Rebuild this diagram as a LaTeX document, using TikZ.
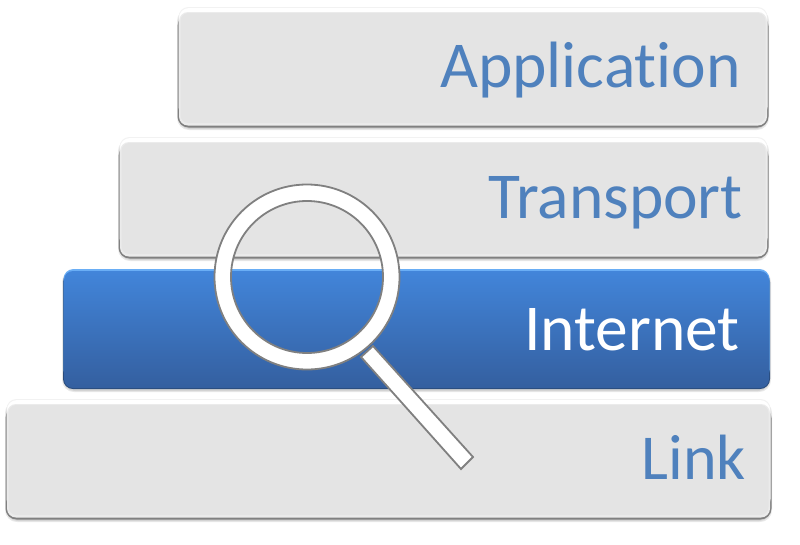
\documentclass[tikz,border=0pt]{standalone}
\usepackage{fontspec}
\setmainfont{Carlito}[Ligatures=NoCommon]
\definecolor{lblue}{HTML}{4F81BD}
\definecolor{ringgray}{HTML}{808080}
\definecolor{boxgray}{HTML}{E4E4E4}
\definecolor{bluetop}{HTML}{4285DA}
\definecolor{bluebot}{HTML}{345F9F}
\definecolor{blueedge}{HTML}{2A4C7C}
\definecolor{bluelight}{HTML}{6AAEF5}
\tikzset{
  softshadow/.style={fill=black,fill opacity=0.09,draw=none,rounded corners=12pt},
  edgegray/.style={fill=#1,draw=none,rounded corners=11pt},
  toplight/.style={fill=#1,draw=none,rounded corners=10pt},
  facegray/.style={fill=boxgray,draw=none,rounded corners=8pt},
  layertext/.style={font=\fontsize{65.5}{66}\selectfont,anchor=base east,inner sep=0pt,text=lblue},
  lens/.style={fill=white,draw=ringgray,line width=1.8pt,even odd rule},
}
\newcommand{\graybox}[4]{%
  \fill[softshadow] (#1-1,#2) rectangle (#3+1,#4+3);
  \fill[softshadow] (#1,#2) rectangle (#3,#4+2);
  \fill[edgegray=black!50] (#1-0.5,#2+6) rectangle (#3+0.5,#4+0.5);
  \fill[toplight=white!95!black] (#1+0.5,#2-2) rectangle (#3-0.5,#4-10);
  \fill[toplight=white] (#1+1,#2-1) rectangle (#3-1,#4-10);
  \fill[fill=white!92!black,rounded corners=9pt] (#1+1,#2+3) rectangle (#3-1,#4-1.5);
  \fill[facegray] (#1+2.5,#2+4) rectangle (#3-2.5,#4-4);
}
\begin{document}
\begin{tikzpicture}[x=1pt,y=-1pt]
\useasboundingbox (0,0) rectangle (800,544);
\fill[white] (0,0) rectangle (800,544);

\graybox{178}{9}{768}{127}
\graybox{119}{139}{768}{258}
\graybox{6}{401}{771}{519}

% Internet, blue
\fill[softshadow] (62,270) rectangle (771,392);
\fill[softshadow] (63,270) rectangle (770,391);
\fill[fill=blueedge,rounded corners=10pt] (63,272) rectangle (770,389);
\fill[fill=bluelight,rounded corners=10pt] (63.5,269) rectangle (769.5,380);
\shade[top color=bluetop,bottom color=bluebot,rounded corners=9pt] (64,271) rectangle (769,388);

\node[layertext] (app) at (741,87) {Application};
\node[layertext] (trans) at (743,218) {Transport};
\node[layertext,text=white] (inet) at (740,350) {Internet};
\node[layertext,font=\fontsize{64}{65}\selectfont] (link) at (746,479) {Link};

% magnifier
\coordinate (c) at (307,277);
\filldraw[fill=white,draw=ringgray,line width=1.8pt]
  (373,346) -- (473,457) -- (461,469) -- (361,357) -- cycle;
\path[lens] (c) circle[radius=92.5] (c) circle[radius=76];
\end{tikzpicture}
\end{document}
